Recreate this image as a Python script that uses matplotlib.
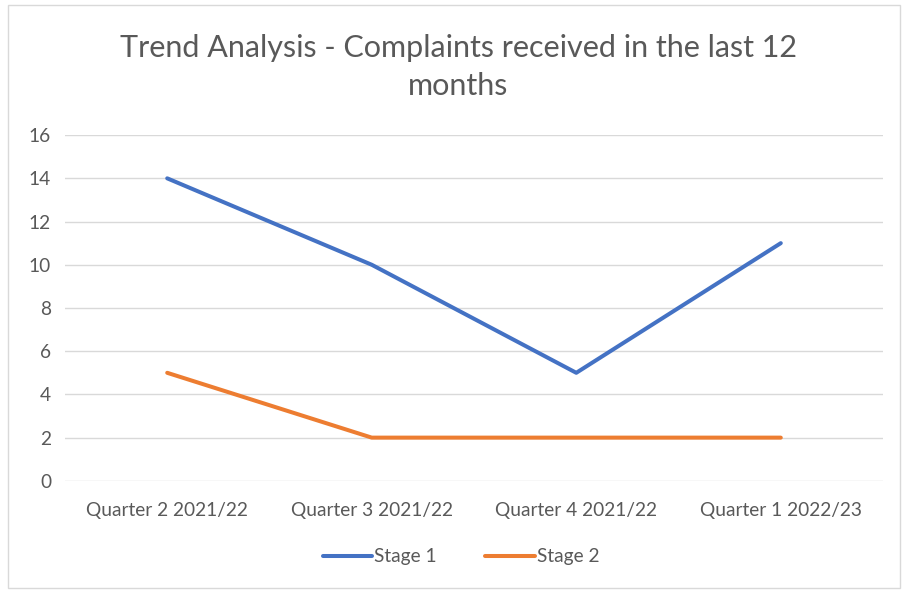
import matplotlib
matplotlib.use("Agg")
from matplotlib import pyplot as plt
from matplotlib.patches import Rectangle

plt.rcParams['font.family'] = ['Lato', 'DejaVu Sans']

quarters = ["Quarter 2 2021/22", "Quarter 3 2021/22", "Quarter 4 2021/22", "Quarter 1 2022/23"]
stage_1 = [14, 10, 5, 11]
stage_2 = [5, 2, 2, 2]

fig = plt.figure(figsize=(9.02, 5.90), dpi=100)
ax = fig.add_axes([0.072, 0.185, 0.907, 0.586])

x = range(len(quarters))
ax.plot(x, stage_1, color='#4472C4', linewidth=2.9, label='Stage 1', solid_capstyle='round')
ax.plot(x, stage_2, color='#ED7D31', linewidth=2.9, label='Stage 2', solid_capstyle='round')

ax.set_xlim(-0.5, len(quarters) - 0.5)
ax.set_ylim(0, 16)
ax.set_yticks(range(0, 17, 2))
ax.set_xticks(list(x))
ax.set_xticklabels(quarters)
ax.grid(axis='y', color='#D9D9D9', linewidth=1)
ax.set_axisbelow(True)
for s in ax.spines.values():
    s.set_visible(False)
ax.tick_params(length=0, colors='#595959', labelsize=13.8)
ax.tick_params(axis='x', pad=15)
ax.tick_params(axis='y', pad=10)

fig.text(0.508, 0.886, "Trend Analysis - Complaints received in the last 12\nmonths",
         ha='center', va='center', fontsize=22, color='#595959', linespacing=1.45)

fig.legend(loc='center', bbox_to_anchor=(0.511, 0.056), ncol=2, frameon=False,
           fontsize=13.8, labelcolor='#595959', handlelength=2.6, handletextpad=0.1,
           columnspacing=2.5)

fig.patches.append(Rectangle((8 / 902, 2 / 590), 892 / 902, 583 / 590, transform=fig.transFigure,
                             fill=False, edgecolor='#D9D9D9', linewidth=1))

fig.savefig('out.png', dpi=100)
